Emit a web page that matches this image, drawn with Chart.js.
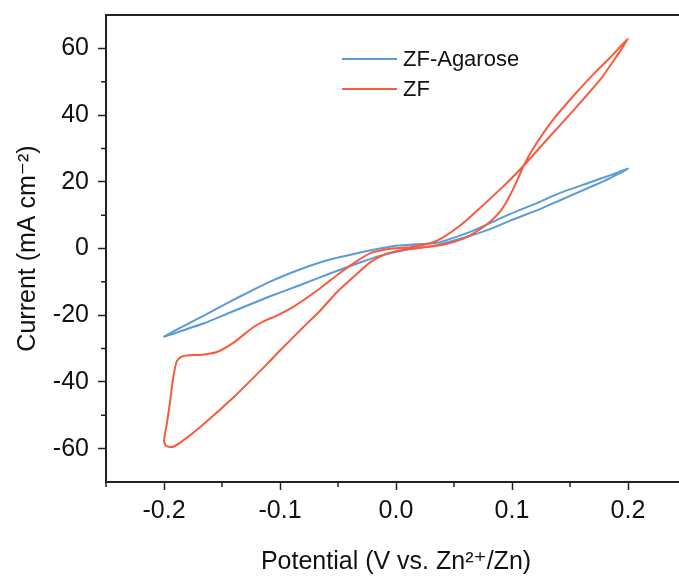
<!DOCTYPE html>
<html>
<head>
<meta charset="utf-8">
<script src="https://cdn.jsdelivr.net/npm/chart.js@4.4.1/dist/chart.umd.min.js"></script>
<style>
  html, body { margin: 0; padding: 0; background: #fff; overflow: hidden; }
  #wrap { width: 700px; height: 577px; }
</style>
</head>
<body>
<div id="wrap"><canvas id="cv"></canvas></div>
<script>
// CV curves (points in scan order)

const potentialAgarose = [0.001, 0.035, 0.064, 0.081, 0.098, 0.124, 0.141, 0.167, 0.185, 0.2,
  0.185, 0.170, 0.141, 0.124, 0.098, 0.081, 0.064, 0.035, 0.006,
  -0.014, -0.031, -0.057, -0.083, -0.109, -0.143, -0.166, -0.184, -0.2,
  -0.184, -0.166, -0.143, -0.126, -0.109, -0.083, -0.057, -0.031, -0.014, 0.001];
const currentAgarose = [0.9, 1.7, 5.0, 7.6, 10.3, 14.0, 16.6, 19.8, 22.0, 23.9,
  21.2, 18.8, 14.4, 11.8, 8.3, 5.8, 3.8, 1.0, -0.6,
  -2.2, -4.2, -7.5, -11.0, -14.4, -19.2, -22.5, -24.6, -26.4,
  -23.4, -20.2, -15.9, -12.9, -10.0, -6.3, -3.3, -1.2, 0.0, 0.9];

const potentialZF = [0.012, -0.005, -0.022, -0.036, -0.051, -0.068, -0.089, -0.103, -0.112, -0.123,
  -0.14, -0.155, -0.169, -0.178, -0.185, -0.189, -0.192, -0.195, -0.198, -0.2,
  -0.198, -0.193, -0.186,
  -0.169, -0.14, -0.111, -0.1, -0.08, -0.065, -0.051, -0.036, -0.022, -0.01, 0.0, 0.012,
  0.03, 0.045, 0.061, 0.075, 0.083, 0.090, 0.096, 0.101, 0.106, 0.110, 0.118, 0.127, 0.137, 0.147,
  0.158, 0.170, 0.185, 0.2,
  0.188, 0.176, 0.153, 0.130, 0.110, 0.100, 0.090, 0.072, 0.055, 0.040, 0.029, 0.012];
const currentZF = [0.4, -0.1, -1.4, -4.3, -8.0, -12.6, -17.6, -20.2, -21.5, -23.6,
  -28.2, -31.1, -31.9, -32.0, -32.4, -33.8, -38.6, -46.5, -53.5, -57.8,
  -59.2, -59.5, -58.2,
  -53.6, -44.6, -34.6, -30.6, -23.6, -18.5, -13.1, -8.3, -4.1, -1.8, -0.8, -0.1,
  0.6, 1.5, 3.4, 6.4, 8.6, 11.2, 14.5, 17.8, 21.6, 24.8, 29.8, 34.6, 39.3, 43.4,
  47.7, 52.2, 57.4, 62.9,
  56.5, 50.6, 41.4, 32.6, 24.8, 21.2, 17.8, 12.0, 6.8, 3.2, 1.5, 0.4];

const seriesNames = ["ZF-Agarose", "ZF"];
const xTicks = [-0.2, -0.1, 0.0, 0.1, 0.2];
const yTicks = [-60, -40, -20, 0, 20, 40, 60];
const xMinor = [-0.25, -0.15, -0.05, 0.05, 0.15, 0.25];
const yMinor = [-50, -30, -10, 10, 30, 50];

const blue = "#5b9bd5";
const red = "#fa5a3c";
const axisColor = "#222";
const fontFamily = "'Liberation Sans', Arial, 'DejaVu Sans', sans-serif";

function toPoints(xs, ys) {
  return xs.map((x, i) => ({x: x, y: ys[i]}));
}

// minor ticks, top/right frame and the legend inside the plot
const extras = {
  id: 'extras',
  afterDraw(chart) {
    const {ctx, chartArea, scales} = chart;
    ctx.save();
    ctx.strokeStyle = axisColor;
    ctx.lineWidth = 1.5;
    ctx.beginPath();
    xMinor.forEach(v => {
      const px = scales.x.getPixelForValue(v);
      ctx.moveTo(px, chartArea.bottom);
      ctx.lineTo(px, chartArea.bottom + 5);
    });
    yMinor.forEach(v => {
      const py = scales.y.getPixelForValue(v);
      ctx.moveTo(chartArea.left, py);
      ctx.lineTo(chartArea.left - 5, py);
    });
    ctx.stroke();
    ctx.lineWidth = 2;
    ctx.beginPath();
    ctx.moveTo(chartArea.left - 1, chartArea.top);
    ctx.lineTo(chartArea.right, chartArea.top);
    ctx.lineTo(chartArea.right, chartArea.bottom);
    ctx.stroke();

    // legend
    ctx.font = "22px " + fontFamily;
    ctx.textBaseline = "middle";
    ctx.fillStyle = "#111";
    chart.data.datasets.forEach((ds, i) => {
      const y = 59 + i * 30;
      ctx.strokeStyle = ds.borderColor;
      ctx.lineWidth = 2;
      ctx.beginPath();
      ctx.moveTo(342, y);
      ctx.lineTo(397, y);
      ctx.stroke();
      ctx.fillText(ds.label, 403, y + 1);
    });
    ctx.restore();
  }
};

const data = {
  datasets: [{
    label: seriesNames[0],
    data: toPoints(potentialAgarose, currentAgarose),
    borderColor: blue,
    order: 1
  }, {
    label: seriesNames[1],
    data: toPoints(potentialZF, currentZF),
    borderColor: red,
    order: 0
  }]
};

const config = {
  type: 'scatter',
  data,
  options: {
    responsive: true,
    maintainAspectRatio: false,
    animation: false,
    layout: { padding: { top: 15, right: 14, left: 0, bottom: 0 } },
    datasets: {
      scatter: {
        showLine: true,
        pointRadius: 0,
        borderWidth: 2,
        tension: 0.2,
        fill: false
      }
    },
    plugins: {
      legend: { display: false },
      tooltip: { enabled: false }
    },
    scales: {
      x: {
        type: 'linear',
        min: -0.25,
        max: 0.25,
        afterBuildTicks: s => { s.ticks = xTicks.map(v => ({value: v})); },
        afterFit: s => { s.height = 95; s.paddingLeft = 0; s.paddingRight = 0; },
        grid: { drawOnChartArea: false, tickLength: 8, tickColor: axisColor, tickWidth: 1.5 },
        border: { display: true, color: axisColor, width: 2 },
        ticks: {
          color: "#111",
          padding: 6,
          maxRotation: 0,
          font: { family: fontFamily, size: 25 },
          callback: v => v.toFixed(1)
        },
        title: {
          display: true,
          text: "Potential (V vs. Zn²⁺/Zn)",
          color: "#111",
          font: { family: fontFamily, size: 25 },
          padding: { top: 0, bottom: 0 }
        }
      },
      y: {
        type: 'linear',
        min: -70,
        max: 70,
        afterBuildTicks: s => { s.ticks = yTicks.map(v => ({value: v})); },
        afterFit: s => { s.width = 106; s.paddingTop = 0; s.paddingBottom = 0; },
        grid: { drawOnChartArea: false, tickLength: 8, tickColor: axisColor, tickWidth: 1.5 },
        border: { display: true, color: axisColor, width: 2 },
        ticks: {
          color: "#111",
          padding: 9,
          font: { family: fontFamily, size: 25 }
        },
        title: {
          display: true,
          text: "Current (mA cm⁻²)",
          color: "#111",
          font: { family: fontFamily, size: 25 },
          padding: { top: 13, bottom: 0 }
        }
      }
    }
  },
  plugins: [extras]
};

const myChart = new Chart("cv", config);
</script>
</body>
</html>
